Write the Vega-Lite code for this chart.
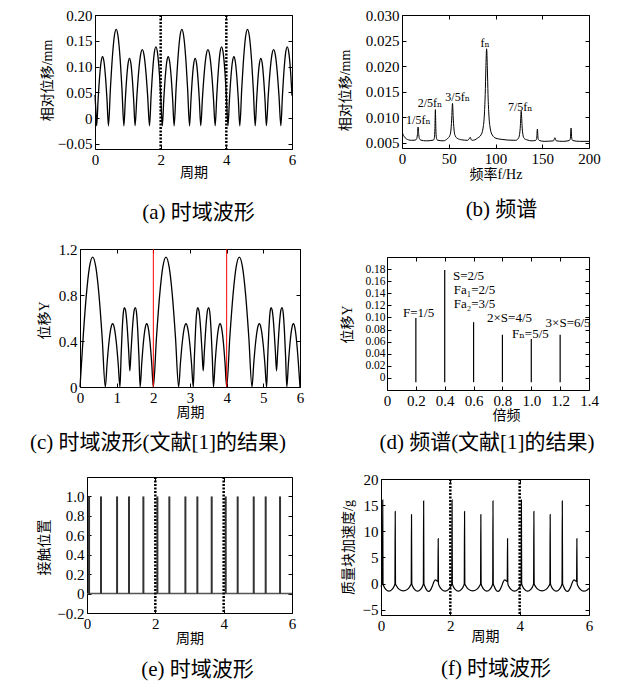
{
"$schema": "https://vega.github.io/schema/vega-lite/v6.json",
"padding": {"left": 0, "top": 7, "right": 5, "bottom": 3},
"background": "white",
"config": {
  "view": {"stroke": "#000", "strokeWidth": 1},
  "axis": {"domain": false, "grid": false, "tickSize": -4, "tickColor": "#000", "tickWidth": 1, "labelFont": "Liberation Serif", "labelFontSize": 15, "labelColor": "#000", "labelPadding": 7, "labelOverlap": false, "labelFlush": false, "titleFont": "Liberation Serif, Noto Sans CJK SC", "titleFontSize": 14, "titleFontWeight": "normal", "titleColor": "#000"},
  "title": {"font": "Liberation Serif, Noto Sans CJK SC", "fontSize": 21, "fontWeight": "normal", "color": "#000", "orient": "bottom", "frame": "group", "anchor": "middle", "baseline": "top"},
  "text": {"font": "Liberation Serif, DejaVu Serif", "fontSize": 13, "color": "#000"}
},
"spacing": 17,
"vconcat": [
{"hconcat": [
  {"width": 95, "height": 1, "data": {"values": [{"x": 0}]}, "mark": {"type": "point", "opacity": 0}, "encoding": {}, "view": {"stroke": null}},
  {"width": 197, "height": 134,
   "title": {"text": "(a)  时域波形", "offset": 23, "dx": 5},
   "resolve": {"axis": {"x": "independent", "y": "independent"}},
   "layer": [
    {"data": {"values": [
{"x":0,"y":0.045},{"x":0.025,"y":0.016},{"x":0.05,"y":-0.015},{"x":0.095,"y":0.0363},{"x":0.14,"y":0.0797},{"x":0.185,"y":0.1088},{"x":0.23,"y":0.119},{"x":0.275,"y":0.1088},{"x":0.32,"y":0.0797},{"x":0.365,"y":0.0363},{"x":0.41,"y":-0.015},
{"x":0.469,"y":0.0566},{"x":0.528,"y":0.1172},{"x":0.586,"y":0.1578},{"x":0.645,"y":0.172},{"x":0.704,"y":0.1578},{"x":0.763,"y":0.1172},{"x":0.821,"y":0.0566},{"x":0.88,"y":-0.015},
{"x":0.923,"y":0.0352},{"x":0.965,"y":0.0776},{"x":1.008,"y":0.106},{"x":1.05,"y":0.116},{"x":1.093,"y":0.106},{"x":1.135,"y":0.0776},{"x":1.178,"y":0.0352},{"x":1.22,"y":-0.015},
{"x":1.275,"y":0.0417},{"x":1.33,"y":0.0896},{"x":1.385,"y":0.1218},{"x":1.44,"y":0.133},{"x":1.495,"y":0.1218},{"x":1.55,"y":0.0896},{"x":1.605,"y":0.0417},{"x":1.66,"y":-0.015},
{"x":1.709,"y":0.0436},{"x":1.758,"y":0.0932},{"x":1.806,"y":0.1264},{"x":1.855,"y":0.138},{"x":1.904,"y":0.1264},{"x":1.953,"y":0.0932},{"x":2.001,"y":0.0436},{"x":2.05,"y":-0.015},
{"x":2.095,"y":0.0363},{"x":2.14,"y":0.0797},{"x":2.185,"y":0.1088},{"x":2.23,"y":0.119},{"x":2.275,"y":0.1088},{"x":2.32,"y":0.0797},{"x":2.365,"y":0.0363},{"x":2.41,"y":-0.015},
{"x":2.469,"y":0.0566},{"x":2.528,"y":0.1172},{"x":2.586,"y":0.1578},{"x":2.645,"y":0.172},{"x":2.704,"y":0.1578},{"x":2.763,"y":0.1172},{"x":2.821,"y":0.0566},{"x":2.88,"y":-0.015},
{"x":2.923,"y":0.0352},{"x":2.965,"y":0.0776},{"x":3.008,"y":0.106},{"x":3.05,"y":0.116},{"x":3.093,"y":0.106},{"x":3.135,"y":0.0776},{"x":3.178,"y":0.0352},{"x":3.22,"y":-0.015},
{"x":3.275,"y":0.0417},{"x":3.33,"y":0.0896},{"x":3.385,"y":0.1218},{"x":3.44,"y":0.133},{"x":3.495,"y":0.1218},{"x":3.55,"y":0.0896},{"x":3.605,"y":0.0417},{"x":3.66,"y":-0.015},
{"x":3.709,"y":0.0436},{"x":3.758,"y":0.0932},{"x":3.806,"y":0.1264},{"x":3.855,"y":0.138},{"x":3.904,"y":0.1264},{"x":3.953,"y":0.0932},{"x":4.001,"y":0.0436},{"x":4.05,"y":-0.015},
{"x":4.095,"y":0.0363},{"x":4.14,"y":0.0797},{"x":4.185,"y":0.1088},{"x":4.23,"y":0.119},{"x":4.275,"y":0.1088},{"x":4.32,"y":0.0797},{"x":4.365,"y":0.0363},{"x":4.41,"y":-0.015},
{"x":4.469,"y":0.0566},{"x":4.528,"y":0.1172},{"x":4.586,"y":0.1578},{"x":4.645,"y":0.172},{"x":4.704,"y":0.1578},{"x":4.763,"y":0.1172},{"x":4.821,"y":0.0566},{"x":4.88,"y":-0.015},
{"x":4.923,"y":0.0352},{"x":4.965,"y":0.0776},{"x":5.008,"y":0.106},{"x":5.05,"y":0.116},{"x":5.093,"y":0.106},{"x":5.135,"y":0.0776},{"x":5.178,"y":0.0352},{"x":5.22,"y":-0.015},
{"x":5.275,"y":0.0417},{"x":5.33,"y":0.0896},{"x":5.385,"y":0.1218},{"x":5.44,"y":0.133},{"x":5.495,"y":0.1218},{"x":5.55,"y":0.0896},{"x":5.605,"y":0.0417},{"x":5.66,"y":-0.015},
{"x":5.709,"y":0.0436},{"x":5.758,"y":0.0932},{"x":5.806,"y":0.1264},{"x":5.855,"y":0.138},{"x":5.904,"y":0.1264},{"x":5.953,"y":0.0932},{"x":6,"y":0.0436}
    ]},
     "mark": {"type": "line", "color": "#000", "strokeWidth": 1.3, "interpolate": "monotone"},
     "encoding": {
       "x": {"field": "x", "type": "quantitative", "scale": {"domain": [0, 6]}, "axis": {"values": [0,2,4,6], "tickCount": 30, "format": "d", "title": "周期", "titleY": 23, "titleBaseline": "middle"}},
       "y": {"field": "y", "type": "quantitative", "scale": {"domain": [-0.05, 0.2]}, "axis": {"values": [-0.05,0,0.05,0.1,0.15,0.2], "tickCount": 30, "labelExpr": "datum.value == 0 ? '0' : format(datum.value, '.2f')", "title": "相对位移/mm", "titleX": -48, "titleY": 65, "titleBaseline": "middle"}}
     }},
    {"data": {"values": [{"x": 2, "y": 0}, {"x": 4, "y": 0}]},
     "mark": {"type": "rule", "color": "#000", "strokeWidth": 2.5, "strokeDash": [2, 1.5]},
     "encoding": {"x": {"field": "x", "type": "quantitative", "axis": {"orient": "top", "values": [0,2,4,6], "tickCount": 30, "labels": false, "title": null}}}},
    {"data": {"values": [{"x": 2, "y": 0}]},
     "mark": {"type": "point", "opacity": 0},
     "encoding": {"y": {"field": "y", "type": "quantitative", "axis": {"orient": "right", "values": [-0.05,0,0.05,0.1,0.15,0.2], "tickCount": 30, "labels": false, "title": null}}}}
   ]},
  {"width": 110, "height": 1, "data": {"values": [{"x": 0}]}, "mark": {"type": "point", "opacity": 0}, "encoding": {}, "view": {"stroke": null}},
  {"width": 187, "height": 133,
   "title": {"text": "(b)  频谱", "offset": 18, "dx": 6},
   "resolve": {"axis": {"x": "independent", "y": "independent"}},
   "layer": [
    {"data": {"values": [
{"x":0,"y":0.0072},{"x":1,"y":0.0067},{"x":2.5,"y":0.0062},{"x":4.5,"y":0.0058},{"x":7,"y":0.0056},{"x":10,"y":0.0055},
{"x":14.2,"y":0.00554},{"x":15.7,"y":0.0058},{"x":16.5,"y":0.00662},{"x":17.2,"y":0.0081},{"x":17.9,"y":0.00662},{"x":18.7,"y":0.0058},{"x":20.2,"y":0.00554},{"x":26,"y":0.0054},
{"x":33.7,"y":0.00555},{"x":34.7,"y":0.0061},{"x":35.2,"y":0.0078},{"x":35.7,"y":0.0115},{"x":36.2,"y":0.0078},{"x":36.7,"y":0.0061},{"x":37.7,"y":0.00555},{"x":44,"y":0.0054},
{"x":49,"y":0.0059},{"x":51,"y":0.00636},{"x":52.2,"y":0.0073},{"x":53.1,"y":0.00946},{"x":54,"y":0.0127},{"x":54.9,"y":0.00946},{"x":55.8,"y":0.0073},{"x":57,"y":0.00636},{"x":59,"y":0.0059},
{"x":64,"y":0.0056},{"x":70,"y":0.0055},{"x":72.2,"y":0.0059},{"x":73,"y":0.0061},{"x":73.8,"y":0.0057},{"x":75,"y":0.0055},{"x":78,"y":0.0056},
{"x":80.5,"y":0.0059},{"x":84.5,"y":0.00656},{"x":86.5,"y":0.0077},{"x":88,"y":0.01024},{"x":89,"y":0.01445},{"x":89.7,"y":0.01946},{"x":90.5,"y":0.0234},{"x":91.3,"y":0.01946},{"x":92,"y":0.01445},{"x":93,"y":0.01024},{"x":94.5,"y":0.0077},{"x":96.5,"y":0.00656},{"x":100.5,"y":0.0059},
{"x":106,"y":0.0057},{"x":113,"y":0.00555},{"x":121.5,"y":0.0055},
{"x":124.5,"y":0.0059},{"x":125.7,"y":0.00664},{"x":126.6,"y":0.00835},{"x":127.1,"y":0.01023},{"x":127.5,"y":0.0112},{"x":127.9,"y":0.01023},{"x":128.4,"y":0.00835},{"x":129.3,"y":0.00664},{"x":130.5,"y":0.0059},{"x":133.5,"y":0.0056},{"x":139,"y":0.0054},
{"x":142.8,"y":0.00548},{"x":144,"y":0.0058},{"x":144.8,"y":0.0077},{"x":145.6,"y":0.0058},{"x":146.8,"y":0.00548},{"x":152,"y":0.0053},
{"x":162,"y":0.0054},{"x":163.5,"y":0.006},{"x":165,"y":0.0054},{"x":172,"y":0.0053},
{"x":178.8,"y":0.00545},{"x":180,"y":0.0058},{"x":180.8,"y":0.0079},{"x":181.6,"y":0.0058},{"x":182.8,"y":0.00545},{"x":190,"y":0.0053},{"x":200,"y":0.0053}
    ]},
     "mark": {"type": "line", "color": "#000", "strokeWidth": 1, "interpolate": "monotone", "clip": true},
     "encoding": {
       "x": {"field": "x", "type": "quantitative", "scale": {"domain": [0, 200]}, "axis": {"values": [0,50,100,150,200], "tickCount": 30, "format": "d", "title": "频率f/Hz", "titleY": 26, "titleBaseline": "middle"}},
       "y": {"field": "y", "type": "quantitative", "scale": {"domain": [0.005, 0.03]}, "axis": {"values": [0.005,0.01,0.015,0.02,0.025,0.03], "tickCount": 30, "format": ".3f", "title": "相对位移/mm", "titleX": -57, "titleY": 75, "titleBaseline": "middle"}}
     }},
    {"data": {"values": [
{"x":17.5,"y":0.0094,"t":"1/5fₙ"},{"x":30,"y":0.0127,"t":"2/5fₙ"},{"x":59.5,"y":0.0139,"t":"3/5fₙ"},{"x":88.8,"y":0.0246,"t":"fₙ"},{"x":126.5,"y":0.0121,"t":"7/5fₙ"}
    ]},
     "mark": {"type": "text", "fontSize": 12, "align": "center", "baseline": "middle"},
     "encoding": {"x": {"field": "x", "type": "quantitative", "axis": {"orient": "top", "values": [0,50,100,150,200], "tickCount": 30, "labels": false, "title": null}}, "y": {"field": "y", "type": "quantitative", "axis": {"orient": "right", "values": [0.005,0.01,0.015,0.02,0.025,0.03], "tickCount": 30, "labels": false, "title": null}}, "text": {"field": "t", "type": "nominal"}}}
   ]}
 ], "spacing": 0, "bounds": "flush"},
{"hconcat": [
  {"width": 80, "height": 1, "data": {"values": [{"x": 0}]}, "mark": {"type": "point", "opacity": 0}, "encoding": {}, "view": {"stroke": null}},
  {"width": 220, "height": 138,
   "title": {"text": "(c)  时域波形(文献[1]的结果)", "offset": 12, "dx": -32},
   "resolve": {"axis": {"x": "independent", "y": "independent"}},
   "layer": [
    {"data": {"values": [
{"x":0,"y":0},{"x":0.086,"y":0.433},{"x":0.173,"y":0.799},{"x":0.259,"y":1.044},{"x":0.345,"y":1.13},{"x":0.431,"y":1.044},{"x":0.518,"y":0.799},{"x":0.604,"y":0.433},{"x":0.69,"y":0},
{"x":0.74,"y":0.211},{"x":0.79,"y":0.389},{"x":0.84,"y":0.508},{"x":0.89,"y":0.55},{"x":0.94,"y":0.508},{"x":0.99,"y":0.389},{"x":1.04,"y":0.211},{"x":1.09,"y":0},
{"x":1.12,"y":0.26},{"x":1.15,"y":0.49},{"x":1.18,"y":0.64},{"x":1.21,"y":0.69},{"x":1.24,"y":0.67},{"x":1.27,"y":0.59},{"x":1.3,"y":0.46},{"x":1.33,"y":0.3},{"x":1.36,"y":0.14},{"x":1.39,"y":0.3},{"x":1.42,"y":0.46},{"x":1.45,"y":0.59},{"x":1.48,"y":0.67},{"x":1.51,"y":0.69},{"x":1.543,"y":0.64},{"x":1.575,"y":0.49},{"x":1.608,"y":0.26},{"x":1.64,"y":0},
{"x":1.685,"y":0.211},{"x":1.73,"y":0.389},{"x":1.775,"y":0.508},{"x":1.82,"y":0.55},{"x":1.865,"y":0.508},{"x":1.91,"y":0.389},{"x":1.955,"y":0.211},{"x":2,"y":0},
{"x":2.086,"y":0.433},{"x":2.173,"y":0.799},{"x":2.259,"y":1.044},{"x":2.345,"y":1.13},{"x":2.431,"y":1.044},{"x":2.518,"y":0.799},{"x":2.604,"y":0.433},{"x":2.69,"y":0},
{"x":2.74,"y":0.211},{"x":2.79,"y":0.389},{"x":2.84,"y":0.508},{"x":2.89,"y":0.55},{"x":2.94,"y":0.508},{"x":2.99,"y":0.389},{"x":3.04,"y":0.211},{"x":3.09,"y":0},
{"x":3.12,"y":0.26},{"x":3.15,"y":0.49},{"x":3.18,"y":0.64},{"x":3.21,"y":0.69},{"x":3.24,"y":0.67},{"x":3.27,"y":0.59},{"x":3.3,"y":0.46},{"x":3.33,"y":0.3},{"x":3.36,"y":0.14},{"x":3.39,"y":0.3},{"x":3.42,"y":0.46},{"x":3.45,"y":0.59},{"x":3.48,"y":0.67},{"x":3.51,"y":0.69},{"x":3.543,"y":0.64},{"x":3.575,"y":0.49},{"x":3.608,"y":0.26},{"x":3.64,"y":0},
{"x":3.685,"y":0.211},{"x":3.73,"y":0.389},{"x":3.775,"y":0.508},{"x":3.82,"y":0.55},{"x":3.865,"y":0.508},{"x":3.91,"y":0.389},{"x":3.955,"y":0.211},{"x":4,"y":0},
{"x":4.086,"y":0.433},{"x":4.173,"y":0.799},{"x":4.259,"y":1.044},{"x":4.345,"y":1.13},{"x":4.431,"y":1.044},{"x":4.518,"y":0.799},{"x":4.604,"y":0.433},{"x":4.69,"y":0},
{"x":4.74,"y":0.211},{"x":4.79,"y":0.389},{"x":4.84,"y":0.508},{"x":4.89,"y":0.55},{"x":4.94,"y":0.508},{"x":4.99,"y":0.389},{"x":5.04,"y":0.211},{"x":5.09,"y":0},
{"x":5.12,"y":0.26},{"x":5.15,"y":0.49},{"x":5.18,"y":0.64},{"x":5.21,"y":0.69},{"x":5.24,"y":0.67},{"x":5.27,"y":0.59},{"x":5.3,"y":0.46},{"x":5.33,"y":0.3},{"x":5.36,"y":0.14},{"x":5.39,"y":0.3},{"x":5.42,"y":0.46},{"x":5.45,"y":0.59},{"x":5.48,"y":0.67},{"x":5.51,"y":0.69},{"x":5.543,"y":0.64},{"x":5.575,"y":0.49},{"x":5.608,"y":0.26},{"x":5.64,"y":0},
{"x":5.685,"y":0.211},{"x":5.73,"y":0.389},{"x":5.775,"y":0.508},{"x":5.82,"y":0.55},{"x":5.865,"y":0.508},{"x":5.91,"y":0.389},{"x":5.955,"y":0.211},{"x":6,"y":0}
    ]},
     "mark": {"type": "line", "color": "#000", "strokeWidth": 1.3, "interpolate": "monotone"},
     "encoding": {
       "x": {"field": "x", "type": "quantitative", "scale": {"domain": [0, 6]}, "axis": {"values": [0,1,2,3,4,5,6], "tickCount": 30, "format": "d", "title": "周期", "titleY": 25.5, "titleBaseline": "middle"}},
       "y": {"field": "y", "type": "quantitative", "scale": {"domain": [0, 1.2]}, "axis": {"values": [0,0.4,0.8,1.2], "tickCount": 30, "labelExpr": "datum.value == 0 ? '0' : format(datum.value, '.1f')", "title": "位移Y", "titleX": -36, "titleY": 71, "titleBaseline": "middle"}}
     }},
    {"data": {"values": [{"x": 2, "y": 0}, {"x": 4, "y": 0}]},
     "mark": {"type": "rule", "color": "#ff0000", "strokeWidth": 1},
     "encoding": {"x": {"field": "x", "type": "quantitative", "axis": {"orient": "top", "values": [0,1,2,3,4,5,6], "tickCount": 30, "labels": false, "title": null}}}},
    {"data": {"values": [{"x": 2, "y": 0}]},
     "mark": {"type": "point", "opacity": 0},
     "encoding": {"y": {"field": "y", "type": "quantitative", "axis": {"orient": "right", "values": [0,0.4,0.8,1.2], "tickCount": 30, "labels": false, "title": null}}}}
   ]},
  {"width": 87, "height": 1, "data": {"values": [{"x": 0}]}, "mark": {"type": "point", "opacity": 0}, "encoding": {}, "view": {"stroke": null}},
  {"vconcat": [
    {"width": 1, "height": 8, "data": {"values": [{"x": 0}]}, "mark": {"type": "point", "opacity": 0}, "encoding": {}, "view": {"stroke": null}},
    {"width": 202, "height": 133,
     "title": {"text": "(d)  频谱(文献[1]的结果)", "offset": 10, "dx": -1},
     "resolve": {"axis": {"x": "independent", "y": "independent"}},
     "layer": [
      {"data": {"values": [{"x":0.2,"v":0.099,"b":-0.007},{"x":0.4,"v":0.1786,"b":-0.007},{"x":0.6,"v":0.0922,"b":-0.007},{"x":0.8,"v":0.0714,"b":-0.007},{"x":1.0,"v":0.0642,"b":-0.007},{"x":1.2,"v":0.0714,"b":-0.007}]},
       "mark": {"type": "rule", "color": "#000", "strokeWidth": 1.2},
       "encoding": {
         "x": {"field": "x", "type": "quantitative", "scale": {"domain": [0, 1.4]}, "axis": {"values": [0,0.2,0.4,0.6,0.8,1,1.2,1.4], "tickCount": 30, "labelExpr": "datum.value == 0 ? '0' : format(datum.value, '.1f')", "title": "倍频", "titleX": 119, "titleY": 25, "titleBaseline": "middle"}},
         "y": {"field": "v", "type": "quantitative", "scale": {"domain": [-0.007, 0.185]}, "axis": {"values": [0,0.02,0.04,0.06,0.08,0.1,0.12,0.14,0.16,0.18], "tickCount": 30, "labelFontSize": 11.5, "labelPadding": 6, "labelExpr": "datum.value == 0 ? '0' : format(datum.value, '.2f')", "title": "位移Y", "titleX": -40, "titleY": 67, "titleBaseline": "middle"}},
         "y2": {"field": "b"}
       }},
      {"data": {"values": [
{"x":0.111,"y":0.1076,"t":"F=1/5"},{"x":0.457,"y":0.169,"t":"S=2/5"},{"x":0.462,"y":0.1448,"t":"Fa₁=2/5"},{"x":0.462,"y":0.122,"t":"Fa₂=3/5"},{"x":0.693,"y":0.0994,"t":"2×S=4/5"},{"x":0.866,"y":0.0724,"t":"Fₙ=5/5"},{"x":1.099,"y":0.0907,"t":"3×S=6/5"}
      ]},
       "mark": {"type": "text", "fontSize": 13, "align": "left", "baseline": "middle"},
       "encoding": {"x": {"field": "x", "type": "quantitative", "axis": {"orient": "top", "values": [0,0.2,0.4,0.6,0.8,1,1.2,1.4], "tickCount": 30, "labels": false, "title": null}}, "y": {"field": "y", "type": "quantitative", "axis": {"orient": "right", "values": [0,0.02,0.04,0.06,0.08,0.1,0.12,0.14,0.16,0.18], "tickCount": 30, "labels": false, "title": null}}, "text": {"field": "t", "type": "nominal"}}}
     ]}
  ], "spacing": 0, "bounds": "flush"}
 ], "spacing": 0, "bounds": "flush"},
{"hconcat": [
  {"width": 87, "height": 1, "data": {"values": [{"x": 0}]}, "mark": {"type": "point", "opacity": 0}, "encoding": {}, "view": {"stroke": null}},
  {"width": 205, "height": 136,
   "title": {"text": "(e)  时域波形", "offset": 14, "dx": 8},
   "resolve": {"axis": {"x": "independent", "y": "independent"}},
   "layer": [
    {"data": {"values": [{"x": 0, "y": 0}, {"x": 6, "y": 0}]},
     "mark": {"type": "line", "color": "#555", "strokeWidth": 1.5},
     "encoding": {"x": {"field": "x", "type": "quantitative", "scale": {"domain": [0, 6]}, "axis": {"values": [0,2,4,6], "tickCount": 30, "format": "d", "title": "周期", "titleY": 25, "titleBaseline": "middle"}}, "y": {"field": "y", "type": "quantitative", "scale": {"domain": [-0.2, 1.2]}, "axis": {"values": [-0.2,0,0.2,0.4,0.6,0.8,1], "tickCount": 30, "labelExpr": "datum.value == 0 ? '0' : format(datum.value, '.1f')", "title": "接触位置", "titleX": -43, "titleY": 70, "titleBaseline": "middle"}}}},
    {"data": {"values": [
{"x":0.06,"v":1,"b":0},{"x":0.41,"v":1,"b":0},{"x":0.88,"v":1,"b":0},{"x":1.23,"v":1,"b":0},{"x":1.65,"v":1,"b":0},
{"x":2.06,"v":1,"b":0},{"x":2.41,"v":1,"b":0},{"x":2.88,"v":1,"b":0},{"x":3.23,"v":1,"b":0},{"x":3.65,"v":1,"b":0},
{"x":4.06,"v":1,"b":0},{"x":4.41,"v":1,"b":0},{"x":4.88,"v":1,"b":0},{"x":5.23,"v":1,"b":0},{"x":5.65,"v":1,"b":0}
    ]},
     "mark": {"type": "rule", "color": "#333", "strokeWidth": 2},
     "encoding": {"x": {"field": "x", "type": "quantitative", "axis": {"orient": "top", "values": [0,2,4,6], "tickCount": 30, "labels": false, "title": null}}, "y": {"field": "v", "type": "quantitative", "axis": {"orient": "right", "values": [-0.2,0,0.2,0.4,0.6,0.8,1], "tickCount": 30, "labels": false, "title": null}}, "y2": {"field": "b"}}},
    {"data": {"values": [{"x": 2}, {"x": 4}]},
     "mark": {"type": "rule", "color": "#000", "strokeWidth": 2.5, "strokeDash": [2, 1.5]},
     "encoding": {"x": {"field": "x", "type": "quantitative", "axis": null}}}
   ]},
  {"width": 89, "height": 1, "data": {"values": [{"x": 0}]}, "mark": {"type": "point", "opacity": 0}, "encoding": {}, "view": {"stroke": null}},
  {"vconcat": [
    {"width": 1, "height": 2, "data": {"values": [{"x": 0}]}, "mark": {"type": "point", "opacity": 0}, "encoding": {}, "view": {"stroke": null}},
    {"width": 208, "height": 136,
     "title": {"text": "(f)  时域波形", "offset": 14, "dx": 11},
     "resolve": {"axis": {"x": "independent", "y": "independent"}},
     "layer": [
      {"data": {"values": [
{"x":0,"y":-0.6},{"x":0.025,"y":-0.2},{"x":0.042,"y":0},{"x":0.05,"y":16},{"x":0.058,"y":0},{"x":0.086,"y":-0.55},{"x":0.14,"y":-1.1},{"x":0.23,"y":-1.45},{"x":0.32,"y":-1.1},{"x":0.374,"y":-0.55},
{"x":0.402,"y":0},{"x":0.41,"y":13.8},{"x":0.418,"y":0},{"x":0.457,"y":-0.55},{"x":0.528,"y":-1.1},{"x":0.645,"y":-1.4},{"x":0.763,"y":-1.1},{"x":0.833,"y":-0.55},
{"x":0.872,"y":0},{"x":0.88,"y":13.2},{"x":0.888,"y":0},{"x":0.915,"y":-0.55},{"x":0.968,"y":-1.1},{"x":1.055,"y":-1.45},{"x":1.143,"y":-1.1},{"x":1.195,"y":-0.55},
{"x":1.222,"y":0},{"x":1.23,"y":15.8},{"x":1.238,"y":0},{"x":1.27,"y":-0.6},{"x":1.31,"y":-1.15},{"x":1.37,"y":-1.5},{"x":1.43,"y":-1.2},{"x":1.48,"y":-0.5},{"x":1.53,"y":0.4},{"x":1.57,"y":0.7},{"x":1.61,"y":0.55},{"x":1.642,"y":0.4},
{"x":1.65,"y":8.6},{"x":1.658,"y":0},{"x":1.69,"y":-0.55},{"x":1.75,"y":-1.1},{"x":1.85,"y":-1.45},{"x":1.95,"y":-1.1},{"x":2.01,"y":-0.55},
{"x":2.042,"y":0},{"x":2.05,"y":16},{"x":2.058,"y":0},{"x":2.086,"y":-0.55},{"x":2.14,"y":-1.1},{"x":2.23,"y":-1.45},{"x":2.32,"y":-1.1},{"x":2.374,"y":-0.55},
{"x":2.402,"y":0},{"x":2.41,"y":13.8},{"x":2.418,"y":0},{"x":2.457,"y":-0.55},{"x":2.528,"y":-1.1},{"x":2.645,"y":-1.4},{"x":2.763,"y":-1.1},{"x":2.833,"y":-0.55},
{"x":2.872,"y":0},{"x":2.88,"y":13.2},{"x":2.888,"y":0},{"x":2.915,"y":-0.55},{"x":2.968,"y":-1.1},{"x":3.055,"y":-1.45},{"x":3.143,"y":-1.1},{"x":3.195,"y":-0.55},
{"x":3.222,"y":0},{"x":3.23,"y":15.8},{"x":3.238,"y":0},{"x":3.27,"y":-0.6},{"x":3.31,"y":-1.15},{"x":3.37,"y":-1.5},{"x":3.43,"y":-1.2},{"x":3.48,"y":-0.5},{"x":3.53,"y":0.4},{"x":3.57,"y":0.7},{"x":3.61,"y":0.55},{"x":3.642,"y":0.4},
{"x":3.65,"y":8.6},{"x":3.658,"y":0},{"x":3.69,"y":-0.55},{"x":3.75,"y":-1.1},{"x":3.85,"y":-1.45},{"x":3.95,"y":-1.1},{"x":4.01,"y":-0.55},
{"x":4.042,"y":0},{"x":4.05,"y":16},{"x":4.058,"y":0},{"x":4.086,"y":-0.55},{"x":4.14,"y":-1.1},{"x":4.23,"y":-1.45},{"x":4.32,"y":-1.1},{"x":4.374,"y":-0.55},
{"x":4.402,"y":0},{"x":4.41,"y":13.8},{"x":4.418,"y":0},{"x":4.457,"y":-0.55},{"x":4.528,"y":-1.1},{"x":4.645,"y":-1.4},{"x":4.763,"y":-1.1},{"x":4.833,"y":-0.55},
{"x":4.872,"y":0},{"x":4.88,"y":13.2},{"x":4.888,"y":0},{"x":4.915,"y":-0.55},{"x":4.968,"y":-1.1},{"x":5.055,"y":-1.45},{"x":5.143,"y":-1.1},{"x":5.195,"y":-0.55},
{"x":5.222,"y":0},{"x":5.23,"y":15.8},{"x":5.238,"y":0},{"x":5.27,"y":-0.6},{"x":5.31,"y":-1.15},{"x":5.37,"y":-1.5},{"x":5.43,"y":-1.2},{"x":5.48,"y":-0.5},{"x":5.53,"y":0.4},{"x":5.57,"y":0.7},{"x":5.61,"y":0.55},{"x":5.642,"y":0.4},
{"x":5.65,"y":8.6},{"x":5.658,"y":0},{"x":5.69,"y":-0.55},{"x":5.75,"y":-1.1},{"x":5.85,"y":-1.45},{"x":5.95,"y":-1.2},{"x":6,"y":-0.95}
      ]},
       "mark": {"type": "line", "color": "#000", "strokeWidth": 1.2, "interpolate": "monotone"},
       "encoding": {
         "x": {"field": "x", "type": "quantitative", "scale": {"domain": [0, 6]}, "axis": {"values": [0,2,4,6], "tickCount": 30, "format": "d", "title": "周期", "titleY": 21.5, "titleBaseline": "middle"}},
         "y": {"field": "y", "type": "quantitative", "scale": {"domain": [-5, 20]}, "axis": {"values": [-5,0,5,10,15,20], "tickCount": 30, "format": "d", "title": "质量块加速度/g", "titleX": -33, "titleY": 68, "titleBaseline": "middle"}}
       }},
      {"data": {"values": [{"x": 2, "y": 0}, {"x": 4, "y": 0}]},
       "mark": {"type": "rule", "color": "#000", "strokeWidth": 2.5, "strokeDash": [2, 1.5]},
       "encoding": {"x": {"field": "x", "type": "quantitative", "axis": {"orient": "top", "values": [0,2,4,6], "tickCount": 30, "labels": false, "title": null}}}},
      {"data": {"values": [{"x": 2, "y": 0}]},
       "mark": {"type": "point", "opacity": 0},
       "encoding": {"y": {"field": "y", "type": "quantitative", "axis": {"orient": "right", "values": [-5,0,5,10,15,20], "tickCount": 30, "labels": false, "title": null}}}}
     ]}
  ], "spacing": 0, "bounds": "flush"}
 ], "spacing": 0, "bounds": "flush"}
]
}
